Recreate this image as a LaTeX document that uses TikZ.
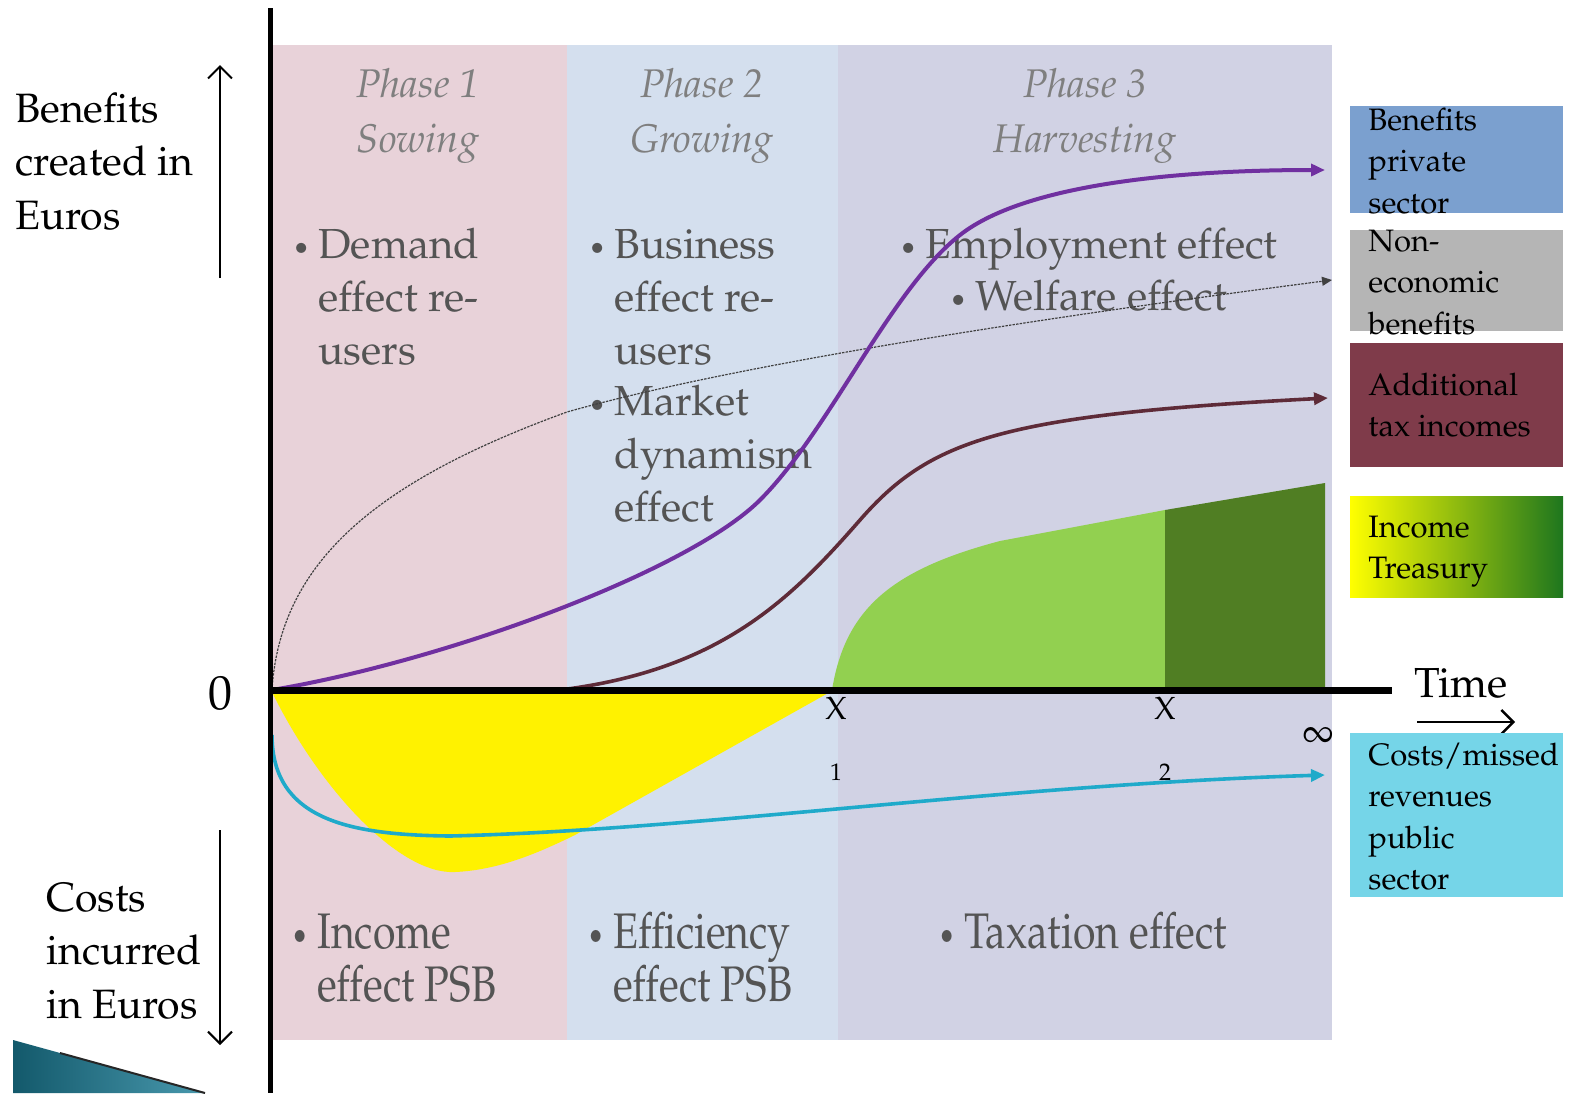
\documentclass[tikz,border=0pt]{standalone}
\usepackage[T1]{fontenc}
\usepackage{mathpazo}
\usepackage{graphicx}
\usetikzlibrary{arrows.meta}

\definecolor{phaseone}{HTML}{E8D2D9}
\definecolor{phasetwo}{HTML}{D4DFEE}
\definecolor{phasethree}{HTML}{D1D2E4}
\definecolor{headgray}{HTML}{7F7F7F}
\definecolor{effgray}{HTML}{545454}
\definecolor{privblue}{HTML}{7BA0CF}
\definecolor{noneco}{HTML}{B5B5B5}
\definecolor{taxred}{HTML}{7F3B4A}
\definecolor{treasgreen}{HTML}{1E761E}
\definecolor{publcyan}{HTML}{75D5E8}
\definecolor{purpleline}{HTML}{7030A0}
\definecolor{maroonline}{HTML}{5E2B38}
\definecolor{cyanline}{HTML}{1FAACA}
\definecolor{lightgreen}{HTML}{92D050}
\definecolor{darkgreen}{HTML}{507E23}
\definecolor{decoteal}{HTML}{1B7F99}

\newcommand{\bpoint}[2][14pt]{\begin{tabular}[t]{@{}l@{}l@{}}\makebox[#1][l]{\hspace{1pt}\scalebox{0.7}{\textbullet}} & #2\end{tabular}}
\newcommand{\ltext}[1]{\begin{tabular}[t]{@{}l@{}}#1\end{tabular}}
\newcommand{\ctext}[1]{\begin{tabular}[t]{@{}c@{}}#1\end{tabular}}

\begin{document}
\begin{tikzpicture}[x=0.5pt, y=-0.5pt,
    phase/.style={anchor=base, inner sep=0pt, text=headgray, font=\fontsize{20}{27.5}\selectfont\itshape},
    effect/.style={anchor=base west, inner sep=0pt, text=effgray, font=\fontsize{21}{26.5}\selectfont},
    cost/.style={anchor=base west, inner sep=0pt, text=effgray, font=\fontsize{25}{26.5}\selectfont},
    side/.style={anchor=base west, inner sep=0pt, font=\fontsize{20.5}{26.75}\selectfont},
    key/.style={anchor=base west, inner sep=0pt, font=\fontsize{15.5}{20.75}\selectfont},
    tick/.style={inner sep=0pt, font=\fontsize{16}{16}\selectfont},
    gain/.style={line width=2pt, -{Triangle[length=7pt,width=6pt]}}]
                \useasboundingbox (0,0) rectangle (1569,1093);

                % the three phases
                \fill[phaseone] (272,45) rectangle (567,1040);
                \fill[phasetwo] (567,45) rectangle (838,1040);
                \fill[phasethree] (838,45) rectangle (1332,1040);

                \node[phase] (ph1) at (418,97) {\ctext{Phase 1\\Sowing}};
                \node[phase] (ph2) at (702,97) {\ctext{Phase 2\\Growing}};
                \node[phase] (ph3) at (1085,97) {\ctext{Phase 3\\Harvesting}};

                % effects above and below the axis
                \node[effect] (demand) at (290,258) {\bpoint{Demand\\ & effect re-\\ & users}};
                \node[effect] (business) at (586,258) {\bpoint{Business\\ & effect re-\\ & users}};
                \node[effect] (market) at (586,415) {\bpoint{Market\\ & dynamism\\ & effect}};
                \node[effect] (employ) at (897,258) {\bpoint{Employment effect}};
                \node[effect] (welfare) at (947,310) {\bpoint{Welfare effect}};
                \node[cost] (income) at (289,948) {\scalebox{0.82}[1]{\bpoint[17pt]{Income\\ & effect PSB}}};
                \node[cost] (effic) at (585,948) {\scalebox{0.82}[1]{\bpoint[17pt]{Efficiency\\ & effect PSB}}};
                \node[cost] (taxation) at (936,948) {\scalebox{0.82}[1]{\bpoint[17pt]{Taxation effect}}};

                % Treasury income and public costs
                \fill[yellow] (272,692) .. controls (320,790) and (400,875) .. (455,872)
                .. controls (500,870) and (540,852) .. (575,835) -- (830,692) -- cycle;
                \fill[lightgreen] (832,690) .. controls (845,610) and (890,570) .. (1000,541)
                -- (1165,510) -- (1165,690) -- cycle;
                \fill[darkgreen] (1165,510) -- (1325,483) -- (1325,690) -- (1165,690) -- cycle;

                % the benefit curves
                \draw[dash pattern=on 1.2pt off 0.6pt, line width=0.6pt, black!75, -{Triangle[length=5pt,width=4.5pt]}]
                (272,690) .. controls (280,560) and (380,480) .. (567,412)
                .. controls (750,360) and (1100,310) .. (1332,280);
                \draw[gain, purpleline] (272,690) .. controls (450,660) and (690,570) .. (760,500)
                .. controls (830,430) and (890,290) .. (960,235)
                .. controls (1030,180) and (1200,170) .. (1325,170);
                \draw[gain, maroonline, line width=1.8pt] (560,690) .. controls (720,670) and (790,600) .. (860,520)
                .. controls (930,440) and (1000,415) .. (1328,398);
                \draw[gain, cyanline, line width=1.8pt] (272,735) .. controls (272,820) and (350,835) .. (450,836)
                .. controls (700,830) and (1000,785) .. (1325,775);

                % axes
                \draw[line width=2.5pt] (270,8) -- (270,1093);
                \draw[line width=3.5pt] (268,690) -- (1392,690);
                \node[inner sep=0pt, font=\fontsize{24}{24}\selectfont] (zero) at (220,693) {0};
                \node[inner sep=0pt, font=\fontsize{21}{21}\selectfont] (time) at (1461,683) {Time};
                \coordinate (tstart) at (1417,722);
                \coordinate (tend) at (1515,722);
                \draw[line width=1.2pt, -{Straight Barb[length=6pt]}] (tstart) -- (tend);
                \node[tick] (x1) at (836,708) {X};
                \node[tick, font=\fontsize{12}{12}\selectfont] (n1) at (836,772) {1};
                \node[tick] (x2) at (1165,708) {X};
                \node[tick, font=\fontsize{12}{12}\selectfont] (n2) at (1165,772) {2};
                \node[tick, font=\fontsize{18}{18}\selectfont] (inf) at (1318,736) {$\infty$};

                % left labels
                \node[side] (benef) at (15,122) {\ltext{Benefits\\created in\\Euros}};
                \node[side] (costs) at (46,911) {\ltext{Costs\\incurred\\in Euros}};
                \coordinate (upfoot) at (220,278);
                \coordinate (uphead) at (220,65);
                \coordinate (downfoot) at (220,830);
                \coordinate (downhead) at (220,1045);
                \draw[line width=1pt, -{Straight Barb[length=6pt]}] (upfoot) -- (uphead);
                \draw[line width=1pt, -{Straight Barb[length=6pt]}] (downfoot) -- (downhead);

                % legend
                \fill[privblue] (1350,106) rectangle (1563,213);
                \fill[noneco] (1350,230) rectangle (1563,331);
                \fill[taxred] (1350,343) rectangle (1563,467);
                \shade[left color=yellow, right color=treasgreen] (1350,496) rectangle (1563,597);
                \fill[publcyan] (1350,733) rectangle (1563,897);
                \node[key] (kpriv) at (1368,130) {\ltext{Benefits\\private\\sector}};
                \node[key] (knon) at (1368,251) {\ltext{Non-\\economic\\benefits}};
                \node[key] (ktax) at (1368,395) {\ltext{Additional\\tax incomes}};
                \node[key] (ktreas) at (1368,537) {\ltext{Income\\Treasury}};
                \node[key] (kpub) at (1368,765) {\ltext{Costs/missed\\revenues\\public\\sector}};

                % corner decoration
                \shade[left color=decoteal!70!black, right color=decoteal!80] (13,1040) -- (205,1093) -- (13,1093) -- cycle;
                \draw[line width=1pt, black!85] (60,1053) -- (205,1093);

            \end{tikzpicture}
\end{document}
